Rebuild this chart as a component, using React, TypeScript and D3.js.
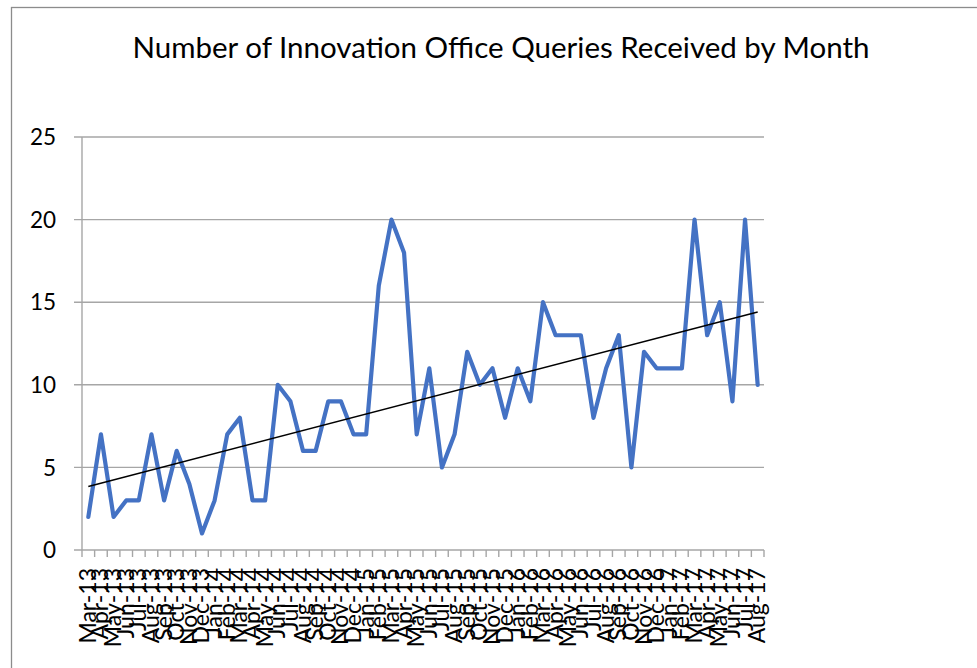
import { useMemo } from "react";
import * as d3 from "d3";

const months = [
  "Mar-13", "Apr-13", "May-13", "Jun-13", "Jul-13", "Aug-13", "Sep-13", "Oct-13", "Nov-13", "Dec-13",
  "Jan-14", "Feb-14", "Mar-14", "Apr-14", "May-14", "Jun-14", "Jul-14", "Aug-14", "Sep-14", "Oct-14", "Nov-14", "Dec-14",
  "Jan-15", "Feb-15", "Mar-15", "Apr-15", "May-15", "Jun-15", "Jul-15", "Aug-15", "Sep-15", "Oct-15", "Nov-15", "Dec-15",
  "Jan-16", "Feb-16", "Mar-16", "Apr-16", "May-16", "Jun-16", "Jul-16", "Aug-16", "Sep-16", "Oct-16", "Nov-16", "Dec-16",
  "Jan-17", "Feb-17", "Mar-17", "Apr-17", "May-17", "Jun-17", "Jul-17", "Aug-17",
];

const queries = [
  2, 7, 2, 3, 3, 7, 3, 6, 4, 1,
  3, 7, 8, 3, 3, 10, 9, 6, 6, 9, 9, 7,
  7, 16, 20, 18, 7, 11, 5, 7, 12, 10, 11, 8,
  11, 9, 15, 13, 13, 13, 8, 11, 13, 5, 12, 11,
  11, 11, 20, 13, 15, 9, 20, 10,
];

const yTicks = [0, 5, 10, 15, 20, 25];

const TITLE = "Number of Innovation Office Queries Received by Month";
const FONT = "Lato, 'Open Sans', 'Liberation Sans', sans-serif";

const App = () => {
  const W = 977;
  const H = 668;
  const M = { left: 82, right: 213, top: 137, bottom: 118 };
  const plotW = W - M.left - M.right;
  const plotH = H - M.top - M.bottom;

  const x = d3.scaleBand<string>().domain(months).range([M.left, M.left + plotW]);
  const y = d3.scaleLinear().domain([0, 25]).range([M.top + plotH, M.top]);
  const cx = (m: string) => (x(m) ?? 0) + x.bandwidth() / 2;

  const line = d3
    .line<number>()
    .x((_, i) => cx(months[i]))
    .y((d) => y(d));

  // linear trendline (least squares)
  const trend = useMemo(() => {
    const n = queries.length;
    const xs = d3.range(n);
    const mx = d3.mean(xs) as number;
    const my = d3.mean(queries) as number;
    let num = 0;
    let den = 0;
    xs.forEach((i) => {
      num += (i - mx) * (queries[i] - my);
      den += (i - mx) * (i - mx);
    });
    const slope = num / den;
    const b = my - slope * mx;
    return [0, n - 1].map((i) => ({ i, v: b + slope * i }));
  }, []);

  const ticks = d3.range(months.length + 1).map((i) => M.left + i * x.step());

  return (
    <svg
      width={W}
      height={H}
      style={{ position: "absolute", left: 0, top: 0, background: "#fff" }}
      fontFamily={FONT}
    >
      <rect x={11.5} y={7.5} width={1100} height={800} fill="#fff" stroke="#8c8c8c" strokeWidth={1.3} />

      <text x={501} y={58} textAnchor="middle" fontSize={29.5} fill="#000">
        {TITLE}
      </text>

      {/* gridlines + y labels */}
      {yTicks.map((t) => (
        <g key={t}>
          <line x1={M.left - 8} x2={M.left + plotW} y1={y(t)} y2={y(t)} stroke="#a6a6a6" strokeWidth={1.4} />
          <text x={56} y={y(t)} dy="0.36em" textAnchor="end" fontSize={22.5} fill="#000">
            {t}
          </text>
        </g>
      ))}

      {/* y axis line */}
      <line x1={M.left} x2={M.left} y1={M.top} y2={M.top + plotH} stroke="#a6a6a6" strokeWidth={1.4} />

      {/* x ticks */}
      {ticks.map((tx, i) => (
        <line key={i} x1={tx} x2={tx} y1={y(0)} y2={y(0) + 7} stroke="#a6a6a6" strokeWidth={1.4} />
      ))}

      {/* x labels */}
      {months.map((m) => (
        <text
          key={m}
          transform={`translate(${cx(m) + 7.5},${y(0) + 18}) rotate(-90)`}
          textAnchor="end"
          fontSize={23}
          fill="#000"
        >
          {m}
        </text>
      ))}

      <path d={line(queries) ?? ""} fill="none" stroke="#4472C4" strokeWidth={4.2} strokeLinejoin="round" strokeLinecap="round" />

      <line
        x1={cx(months[trend[0].i])}
        y1={y(trend[0].v)}
        x2={cx(months[trend[1].i])}
        y2={y(trend[1].v)}
        stroke="#000"
        strokeWidth={1.5}
      />
    </svg>
  );
};

export default App;
